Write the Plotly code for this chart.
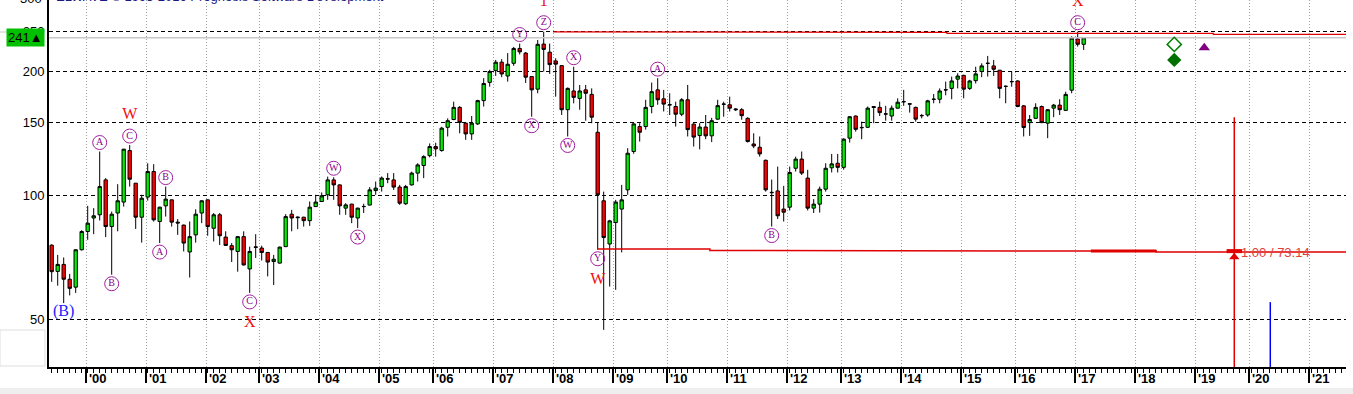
import math
import plotly.graph_objects as go

# ---------------- data (bar-based price chart, log scale) ----------------
open_ = [75.6, 65.3, 67.9, 62.5, 59.8, 73.7, 81.6, 88.0, 89.6, 108.9,
         83.9, 90.5, 96.2, 128.3, 106.9, 88.4, 98.9, 114.1, 86.3, 94.2,
         97.4, 86.0, 84.6, 72.8, 80.1, 90.5, 97.4, 83.1, 89.6, 79.1,
         75.4, 73.0, 79.3, 66.2, 74.9, 74.4, 72.6, 69.0, 68.4, 75.0,
         89.9, 88.5, 88.4, 86.7, 93.8, 96.5, 100.2, 108.9, 105.9, 93.0,
         95.1, 88.0, 93.9, 94.6, 102.6, 104.9, 109.6, 108.9, 104.6, 95.3,
         105.9, 113.1, 118.0, 124.7, 131.2, 128.3, 146.1, 152.6, 163.3, 149.5,
         140.8, 148.9, 169.6, 187.8, 200.6, 210.2, 194.6, 208.9, 227.0, 221.2,
         194.0, 180.8, 232.6, 222.3, 211.7, 206.2, 161.2, 179.0, 171.7, 180.1,
         175.6, 142.1, 96.9, 76.1, 85.8, 92.5, 103.0, 127.6, 146.7, 146.7,
         164.1, 180.1, 171.3, 165.8, 164.1, 157.2, 170.4, 148.7, 139.5, 146.3,
         139.3, 152.9, 166.4, 165.7, 161.9, 161.2, 153.6, 133.1, 130.7, 121.5,
         101.6, 102.4, 92.5, 93.5, 116.2, 122.3, 110.0, 93.0, 95.1, 103.4,
         116.5, 119.5, 116.8, 137.5, 155.6, 146.0, 146.1, 164.1, 163.3, 157.5,
         155.6, 162.6, 168.7, 166.7, 163.3, 156.1, 156.5, 171.0, 170.9, 180.0,
         181.6, 191.2, 195.3, 181.6, 189.6, 199.5, 209.0, 205.9, 201.0, 183.8,
         188.7, 189.3, 164.7, 150.0, 153.6, 164.1, 149.5, 162.6, 165.4, 160.6,
         179.8, 239.4, 232.3]
high = [76.0, 71.6, 70.6, 64.4, 73.9, 82.2, 94.2, 93.0, 127.6, 110.0,
        91.2, 106.3, 129.5, 132.3, 107.0, 100.2, 119.5, 118.9, 93.7, 104.9,
        97.6, 87.5, 84.8, 86.3, 92.4, 97.1, 97.6, 90.5, 90.5, 81.7,
        76.5, 79.5, 81.7, 75.0, 80.4, 75.4, 72.8, 71.6, 75.0, 89.9,
        92.1, 88.7, 88.6, 96.5, 100.2, 101.5, 110.9, 110.5, 106.2, 95.6,
        95.3, 93.2, 95.3, 104.6, 107.9, 111.0, 113.1, 113.1, 105.9, 105.9,
        114.0, 119.5, 125.0, 133.5, 134.0, 146.5, 153.6, 168.6, 164.5, 149.7,
        155.6, 170.4, 192.3, 201.5, 212.9, 213.8, 221.2, 229.0, 233.3, 222.5,
        194.2, 238.0, 249.3, 233.3, 214.9, 206.9, 182.5, 205.0, 185.1, 185.1,
        181.6, 150.2, 102.0, 87.1, 97.4, 105.9, 130.0, 149.5, 149.5, 170.4,
        187.6, 192.3, 180.1, 176.7, 168.6, 172.0, 185.1, 149.5, 149.5, 156.5,
        154.0, 170.4, 168.6, 173.4, 162.6, 162.6, 154.5, 141.3, 138.8, 122.0,
        109.1, 117.3, 105.3, 117.3, 124.0, 127.6, 115.2, 97.8, 104.9, 119.5,
        125.9, 125.9, 137.5, 155.6, 156.0, 150.8, 164.1, 164.3, 168.6, 164.7,
        165.0, 171.8, 180.1, 167.1, 164.0, 157.4, 170.4, 176.0, 181.6, 188.6,
        194.0, 197.6, 196.0, 190.5, 205.0, 208.9, 217.7, 212.9, 201.2, 184.5,
        199.5, 190.0, 165.5, 156.5, 167.1, 165.0, 161.8, 166.5, 170.9, 178.3,
        243.0, 249.3, 241.6]
low = [61.6, 60.3, 54.7, 57.1, 57.9, 73.4, 77.9, 80.4, 86.8, 79.1,
       64.1, 81.7, 93.8, 104.9, 82.8, 76.7, 97.0, 86.3, 76.5, 88.7,
       83.9, 80.1, 73.0, 63.1, 76.7, 85.5, 79.7, 77.2, 75.7, 75.3,
       68.8, 65.2, 67.5, 57.9, 70.4, 69.4, 63.5, 60.5, 68.2, 74.8,
       81.7, 82.7, 83.9, 84.2, 93.6, 96.3, 97.4, 97.4, 89.6, 89.6,
       85.5, 83.2, 90.5, 94.4, 100.2, 102.0, 106.9, 103.0, 94.7, 94.7,
       105.5, 107.9, 110.0, 123.5, 124.0, 127.5, 138.8, 152.0, 141.3, 136.2,
       136.2, 148.0, 164.1, 183.3, 194.7, 193.3, 188.6, 206.0, 219.5, 187.2,
       155.0, 176.7, 199.5, 196.9, 173.4, 156.5, 138.8, 167.0, 161.2, 151.6,
       149.5, 73.7, 47.1, 60.0, 58.9, 72.6, 100.2, 126.0, 134.9, 144.2,
       158.0, 165.7, 159.6, 156.5, 146.7, 155.5, 138.8, 131.2, 129.2, 136.7,
       134.5, 152.5, 155.0, 159.6, 160.0, 152.4, 134.2, 130.0, 124.0, 102.0,
       83.9, 87.5, 86.3, 91.8, 114.1, 111.9, 91.8, 90.5, 90.7, 102.0,
       113.5, 113.5, 115.3, 134.2, 142.6, 136.7, 145.5, 149.5, 155.6, 151.6,
       151.6, 162.0, 164.7, 158.6, 150.8, 153.6, 155.0, 167.1, 167.1, 174.7,
       170.9, 181.6, 171.8, 180.0, 186.6, 193.3, 194.0, 194.7, 171.8, 167.1,
       183.3, 163.5, 138.8, 139.3, 153.0, 149.5, 137.5, 154.6, 156.5, 160.0,
       176.7, 229.3, 225.1]
close_ = [65.2, 67.9, 62.5, 59.4, 73.7, 81.6, 85.5, 89.1, 104.9, 83.9,
          89.9, 96.9, 129.3, 109.3, 88.4, 98.3, 114.1, 87.1, 93.5, 97.8,
          86.0, 85.6, 76.5, 79.3, 89.9, 96.9, 83.9, 89.6, 79.7, 75.5,
          73.7, 79.3, 67.7, 73.0, 74.7, 72.6, 68.8, 69.9, 74.8, 88.7,
          88.0, 88.2, 86.7, 93.5, 96.2, 99.6, 108.9, 105.9, 94.2, 94.7,
          88.4, 93.0, 93.8, 103.0, 104.0, 110.0, 109.4, 104.6, 95.6, 104.9,
          113.1, 118.4, 124.0, 131.2, 129.5, 145.4, 151.6, 163.3, 150.2, 140.8,
          149.5, 169.6, 186.6, 199.5, 210.2, 196.8, 207.8, 227.0, 222.7, 193.3,
          180.1, 232.3, 225.8, 207.4, 207.9, 161.2, 181.6, 172.7, 179.0, 176.7,
          154.6, 100.2, 78.9, 86.6, 96.2, 97.4, 126.4, 148.9, 142.1, 163.3,
          178.3, 170.4, 166.3, 165.6, 157.2, 170.4, 144.2, 138.3, 146.3, 139.3,
          151.6, 164.9, 166.2, 162.6, 161.2, 155.9, 134.9, 131.6, 125.9, 103.0,
          101.4, 89.1, 90.9, 113.5, 122.3, 113.1, 93.0, 95.1, 103.4, 116.2,
          119.1, 116.8, 136.7, 155.0, 144.5, 145.8, 162.6, 163.2, 158.6, 157.3,
          162.6, 168.1, 168.5, 166.3, 152.9, 155.9, 169.4, 170.8, 179.0, 180.2,
          189.3, 194.6, 180.8, 189.3, 196.9, 205.9, 208.8, 202.1, 181.6, 183.6,
          188.5, 164.1, 145.9, 152.6, 163.3, 150.0, 161.2, 165.4, 161.2, 175.6,
          240.5, 232.3, 241.0]
bars = list(range(len(open_)))

# year labels and where each year starts (in bar units)
year_labels = ["'00", "'01", "'02", "'03", "'04", "'05", "'06", "'07", "'08", "'09", "'10",
               "'11", "'12", "'13", "'14", "'15", "'16", "'17", "'18", "'19", "'20", "'21"]
year_start_bar = [5.72, 15.72, 25.72, 34.6, 44.6, 54.6, 63.6, 73.6, 83.6, 93.6, 102.6,
                  112.6, 122.6, 131.6, 141.6, 151.6, 160.6, 170.6, 180.6, 190.6, 199.6, 209.6]

y_ticks = [50, 100, 150, 200, 250]

# wave labels: (bar, text, side)
circle_labels = [(8, 'A', 'up'), (13, 'C', 'up'), (10, 'B', 'dn'), (19, 'B', 'up'),
                 (18, 'A', 'dn'), (33, 'C', 'dn'), (47, 'W', 'up'), (51, 'X', 'dn'),
                 (78, 'Y', 'up'), (82, 'Z', 'up'), (80, 'X', 'dn'), (87, 'X', 'up'),
                 (86, 'W', 'dn'), (91, 'Y', 'dn'), (101, 'A', 'up'), (120, 'B', 'dn'),
                 (171, 'C', 'up')]
red_labels = [(13, 'W', 'up'), (33, 'X', 'dn'), (82, '1', 'up'), (91, 'W', 'dn'), (171, 'X', 'up')]
blue_labels = [(2, '(B)', 'dn')]

# target / fibonacci lines
upper_line_x = [83.6, 104.2, 104.2, 149.2, 149.2, 193.6, 193.6, 215.8]
upper_line_y = [249.1, 249.1, 248.3, 248.3, 246.9, 246.9, 245.5, 245.5]
lower_line_x = [91.0, 109.7, 109.7, 146.9, 146.9, 184.1, 184.1, 215.8]
lower_line_y = [73.96, 73.96, 73.39, 73.39, 73.14, 73.14, 72.73, 72.73]
thick_seg_x = [173.2, 184.1]
thick_seg_y = [73.14, 73.14]
target_bar = 197.1
target_top = 154.6
target_level = 73.14
blue_bar = 203.1
blue_top = 55.0
green_marker_bar = 187.1
green_marker_y = [232.2, 212.9]
purple_marker_bar = 192.1
purple_marker_y = 227.8

# ---------------- geometry helpers ----------------
LOG_RANGE = [1.5829, 2.4736]
X_RANGE = [-0.45, 215.72]
PLOT_H = 367
DEC_PER_PX = (LOG_RANGE[1] - LOG_RANGE[0]) / PLOT_H


def shifted(v, px):
    return v * 10 ** (px * DEC_PER_PX)


def label_pos(items, px):
    xs, ys, ts = [], [], []
    for b, t, side in items:
        xs.append(b)
        ys.append(shifted(high[b], px) if side == 'up' else shifted(low[b], -px))
        ts.append(t)
    return xs, ys, ts


GREEN = '#00f000'
RED = '#ff0000'

fig = go.Figure()

# current price line
fig.add_trace(go.Scatter(x=X_RANGE, y=[close_[-1], close_[-1]], mode='lines',
                         line=dict(color='#c8c8c8', width=1.5), hoverinfo='skip'))

fig.add_trace(go.Candlestick(
    x=bars, open=open_, high=high, low=low, close=close_,
    increasing=dict(fillcolor=GREEN, line=dict(color='black', width=1)),
    decreasing=dict(fillcolor=RED, line=dict(color='black', width=1)),
    whiskerwidth=0, hoverinfo='skip'))

fig.add_trace(go.Scatter(x=upper_line_x, y=upper_line_y, mode='lines',
                         line=dict(color='#e00000', width=1.2), hoverinfo='skip'))
fig.add_trace(go.Scatter(x=lower_line_x, y=lower_line_y, mode='lines',
                         line=dict(color='#e00000', width=1.5), hoverinfo='skip'))
fig.add_trace(go.Scatter(x=thick_seg_x, y=thick_seg_y, mode='lines',
                         line=dict(color='#e00000', width=3), hoverinfo='skip'))
fig.add_trace(go.Scatter(x=[target_bar, target_bar], y=[target_top, 20], mode='lines',
                         line=dict(color='#e00000', width=1.5), hoverinfo='skip'))
fig.add_trace(go.Scatter(x=[blue_bar, blue_bar], y=[blue_top, 20], mode='lines',
                         line=dict(color='#0000ff', width=1.5), hoverinfo='skip'))

# markers
fig.add_trace(go.Scatter(x=[green_marker_bar], y=[green_marker_y[0]], mode='markers',
                         marker=dict(symbol='diamond-open', size=11, color='#008000',
                                     line=dict(width=1.5, color='#008000')), hoverinfo='skip'))
fig.add_trace(go.Scatter(x=[green_marker_bar], y=[green_marker_y[1]], mode='markers',
                         marker=dict(symbol='diamond', size=11, color='#007000'), hoverinfo='skip'))
fig.add_trace(go.Scatter(x=[purple_marker_bar], y=[purple_marker_y], mode='markers',
                         marker=dict(symbol='triangle-up', size=10, color='#800080'), hoverinfo='skip'))
fig.add_trace(go.Scatter(x=[target_bar], y=[target_level], mode='markers',
                         marker=dict(symbol='line-ew', size=11, line=dict(width=4, color='#e00000')),
                         hoverinfo='skip'))
fig.add_trace(go.Scatter(x=[target_bar], y=[shifted(target_level, -6)], mode='markers',
                         marker=dict(symbol='triangle-up', size=9, color='#e00000'), hoverinfo='skip'))

# wave labels
cx, cy, ct = label_pos(circle_labels, 9)
fig.add_trace(go.Scatter(x=cx, y=cy, text=ct, mode='markers+text', textposition='middle center',
                         marker=dict(symbol='circle-open', size=14, color='#a020a0',
                                     line=dict(width=1, color='#a020a0')),
                         textfont=dict(family='Liberation Serif', size=10, color='#8b008b'),
                         cliponaxis=False, hoverinfo='skip'))
rx, ry, rt = label_pos(red_labels, 30)
fig.add_trace(go.Scatter(x=rx, y=ry, text=rt, mode='text', textposition='middle center',
                         textfont=dict(family='Liberation Serif', size=16, color='#f01010'),
                         cliponaxis=False, hoverinfo='skip'))
bx, by, bt = label_pos(blue_labels, 9)
fig.add_trace(go.Scatter(x=bx, y=by, text=bt, mode='text', textposition='middle center',
                         textfont=dict(family='Liberation Serif', size=16, color='#2020ff'),
                         cliponaxis=False, hoverinfo='skip'))

annotations = []
for pos, lab in zip(year_start_bar, year_labels):
    annotations.append(dict(x=pos, y=0, xref='x', yref='paper', text='<b>' + lab + '</b>',
                            showarrow=False, xanchor='left', yanchor='top', xshift=1, yshift=-2,
                            font=dict(family='Liberation Sans', size=13, color='black')))
annotations.append(dict(x=0.004, y=1, xref='paper', yref='paper', showarrow=False,
                        text='ELWAVE © 1993-2016 Prognosis Software Development',
                        xanchor='left', yanchor='middle', yshift=4,
                        font=dict(family='Liberation Sans', size=13, color='#1a1a80')))
annotations.append(dict(x=-0.004, y=1, xref='paper', yref='paper', showarrow=False, text='300',
                        xanchor='right', yanchor='middle', yshift=2,
                        font=dict(family='Liberation Sans', size=13, color='black')))
annotations.append(dict(x=-0.003, y=math.log10(close_[-1]), xref='paper', yref='y',
                        showarrow=False, text='241▲', xanchor='right', yanchor='middle',
                        bgcolor='#00c000', borderpad=1,
                        font=dict(family='Liberation Sans', size=13, color='black')))
annotations.append(dict(x=target_bar, y=math.log10(target_level), xref='x', yref='y',
                        showarrow=False, text='1.00 / 73.14', xanchor='left', yanchor='middle',
                        xshift=5, yshift=-1,
                        font=dict(family='Liberation Sans', size=13, color='#e04040')))

pw = 1353 - 49 - 7
shapes = [
    dict(type='rect', xref='paper', yref='paper', x0=-49 / pw, x1=1304 / pw,
         y0=-27 / PLOT_H, y1=-21 / PLOT_H, fillcolor='#eeeeee', line=dict(width=0), layer='below'),
    dict(type='rect', xref='paper', yref='paper', x0=-49 / pw, x1=-4 / pw,
         y0=1 / PLOT_H, y1=37 / PLOT_H, fillcolor='white', line=dict(width=1, color='#dddddd'),
         layer='below'),
    dict(type='line', xref='paper', yref='paper', x0=-49 / pw, x1=-38 / pw,
         y0=(PLOT_H - 32) / PLOT_H, y1=(PLOT_H - 32) / PLOT_H, line=dict(width=1, color='#c8c8c8')),
]

fig.update_layout(
    width=1353, height=394,
    margin=dict(l=49, r=7, t=0, b=27),
    paper_bgcolor='white', plot_bgcolor='white',
    showlegend=False, boxgap=0.2,
    annotations=annotations, shapes=shapes,
    xaxis=dict(range=X_RANGE, tickmode='array', tickvals=year_start_bar, showticklabels=False,
               ticks='outside', ticklen=14, tickwidth=2, tickcolor='black',
               showgrid=True, gridcolor='#a0a0a0', griddash='1px,2px', gridwidth=1,
               showline=True, linecolor='black', linewidth=2, zeroline=False,
               rangeslider=dict(visible=False),
               minor=dict(tickmode='linear', tick0=0, dtick=1, ticks='outside', ticklen=4,
                          tickwidth=1, tickcolor='black', showgrid=False)),
    yaxis=dict(type='log', range=LOG_RANGE, tickmode='array', tickvals=y_ticks,
               ticktext=[str(v) for v in y_ticks], ticks='',
               showgrid=True, gridcolor='black', griddash='4px,3px', gridwidth=1,
               showline=True, linecolor='black', linewidth=2, zeroline=False,
               tickfont=dict(family='Liberation Sans', size=13, color='black')),
    font=dict(family='Liberation Sans'),
)

fig.write_html('out.html', config={'displayModeBar': False},
               post_script="document.body.style.margin='0px';document.body.style.overflow='hidden';")
